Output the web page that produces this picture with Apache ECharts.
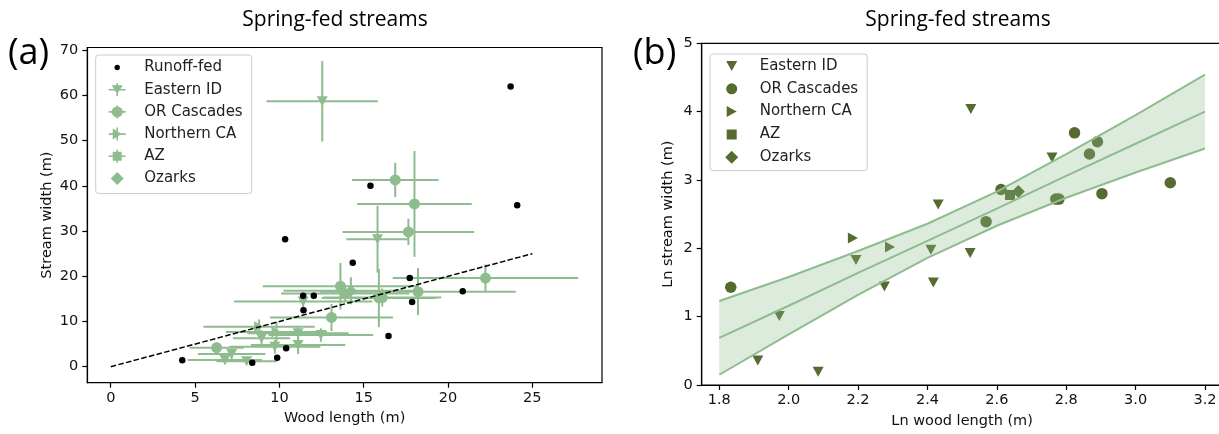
<!DOCTYPE html>
<html><head><meta charset="utf-8">
<script src="https://cdn.jsdelivr.net/npm/echarts@6/dist/echarts.min.js"></script>
<style>html,body{margin:0;padding:0;background:#fff}#c{width:1219px;height:434px}</style>
</head><body><div id="c"></div>
<script>
// ---------- Panel (a) data ----------
const aXTicks = [0, 5, 10, 15, 20, 25];
const aYTicks = [0, 10, 20, 30, 40, 50, 60, 70];
const runoffX = [23.71, 24.1, 15.4, 10.34, 14.35, 17.73, 20.87, 17.87, 16.47, 11.41, 12.04, 11.43, 10.4, 9.87, 8.39, 4.24];
const runoffY = [62.0, 35.7, 40.0, 28.2, 23.0, 19.6, 16.7, 14.3, 6.8, 15.7, 15.7, 12.5, 4.07, 2.0, 0.9, 1.4];
const eastX = [12.54, 15.82, 11.41, 8.94, 11.11, 12.46, 9.73, 11.11, 7.17, 6.77, 8.06];
const eastY = [58.7, 28.2, 14.4, 6.3, 7.4, 7.0, 4.4, 4.8, 2.8, 1.5, 1.2];
const eastXErr = [3.3, 1.85, 4.1, 1.7, 3.0, 3.1, 2.7, 2.8, 2.0, 2.2, 1.8];
const eastYErr = [8.9, 7.4, 1.5, 1.8, 1.6, 1.5, 1.5, 2.0, 1.2, 1.0, 0.6];
const orX = [6.28, 13.09, 13.62, 15.9, 16.1, 16.87, 17.65, 18.01, 18.22, 22.22];
const orY = [4.2, 10.9, 17.8, 15.2, 15.3, 41.3, 29.8, 36.0, 16.6, 19.6];
const orXErr = [1.6, 3.65, 4.6, 3.4, 3.5, 2.57, 3.9, 3.4, 5.8, 5.5];
const orYErr = [1.2, 3.0, 5.15, 6.45, 2.0, 3.8, 2.9, 11.7, 5.2, 3.0];
const ncaX = [8.8, 9.83];
const ncaY = [8.85, 7.7];
const ncaXErr = [3.3, 3.0];
const ncaYErr = [1.6, 2.2];
const azX = [13.9];
const azY = [16.2];
const azXErr = [3.8];
const azYErr = [1.8];
const ozX = [14.24];
const ozY = [16.8];
const ozXErr = [4.0];
const ozYErr = [3.0];
const refLineX = [0, 25];
const refLineY = [0, 25];

// ---------- Panel (b) data ----------
const bXTicks = [1.8, 2.0, 2.2, 2.4, 2.6, 2.8, 3.0, 3.2];
const bYTicks = [0, 1, 2, 3, 4, 5];
const bEastX = [1.911, 1.973, 2.085, 2.194, 2.276, 2.41, 2.417, 2.431, 2.523, 2.525, 2.759];
const bEastY = [0.36, 1.01, 0.195, 1.83, 1.44, 1.98, 1.50, 2.64, 1.93, 4.04, 3.33];
const bOrX = [1.833, 2.569, 2.612, 2.77, 2.779, 2.824, 2.867, 2.89, 2.903, 3.1];
const bOrY = [1.43, 2.39, 2.86, 2.72, 2.72, 3.69, 3.38, 3.56, 2.80, 2.96];
const bNcaX = [2.185, 2.292];
const bNcaY = [2.15, 2.02];
const bAzX = [2.638];
const bAzY = [2.78];
const bOzX = [2.662];
const bOzY = [2.83];
const bandX = [1.8, 2.0, 2.2, 2.4, 2.6, 2.8, 3.0, 3.2];
const fitY = [0.69, 1.16, 1.64, 2.11, 2.58, 3.06, 3.53, 4.0];
const upperY = [1.23, 1.58, 1.96, 2.36, 2.83, 3.38, 3.95, 4.54];
const lowerY = [0.15, 0.74, 1.32, 1.86, 2.33, 2.74, 3.11, 3.46];

const GREEN = '#8fbc8f', OLIVE = '#556b2f';
const FONT = 'DejaVu Sans';

const zip = (xs, ys) => xs.map((x, i) => [x, ys[i]]);
const zip4 = (xs, ys, ex, ey) => xs.map((x, i) => [x, ys[i], ex[i], ey[i]]);

const M_TRI_DOWN = 'path://M0,0L2,0L1,2Z';
const M_TRI_RIGHT = 'path://M0,0L2,1L0,2Z';
const CORN = (s) => `M0,0L0.05,0L0,0.05Z M${s},${s}L${s - 0.05},${s}L${s},${s - 0.05}Z`;
const barsA = 'M0.5,8.2H17.5V9.8H0.5Z M8.2,2.5H9.8V15.5H8.2Z';
const legA = {
  dot: 'path://' + CORN(18) + ' M6.3,9A2.7,2.7 0 1,1 11.7,9A2.7,2.7 0 1,1 6.3,9Z',
  tri: 'path://' + CORN(18) + ' ' + barsA + ' M3.5,4.5L14.5,4.5L9,13.5Z',
  cir: 'path://' + CORN(18) + ' ' + barsA + ' M3.5,9A5.5,5.5 0 1,1 14.5,9A5.5,5.5 0 1,1 3.5,9Z',
  rtri: 'path://' + CORN(18) + ' ' + barsA + ' M4.5,3.5L13.5,9L4.5,14.5Z',
  sq: 'path://' + CORN(18) + ' ' + barsA + ' M4.5,4.5H13.5V13.5H4.5Z',
  dia: 'path://' + CORN(18) + ' M9,2.5L15.5,9L9,15.5L2.5,9Z'
};
const legB = {
  tri: 'path://' + CORN(16) + ' M2.5,3L13.5,3L8,13Z',
  cir: 'path://' + CORN(16) + ' M2.5,8A5.5,5.5 0 1,1 13.5,8A5.5,5.5 0 1,1 2.5,8Z',
  rtri: 'path://' + CORN(16) + ' M3,2.5L13,8L3,13.5Z',
  sq: 'path://' + CORN(16) + ' M3,3H13V13H3Z',
  dia: 'path://' + CORN(16) + ' M8,1.5L14.5,8L8,14.5L1.5,8Z'
};

function errRender(params, api) {
  const x = api.value(0), y = api.value(1), ex = api.value(2), ey = api.value(3);
  const l = api.coord([x - ex, y]), r = api.coord([x + ex, y]);
  const t = api.coord([x, y + ey]), b = api.coord([x, y - ey]);
  const style = { stroke: GREEN, lineWidth: 2 };
  return { type: 'group', children: [
    { type: 'line', shape: { x1: l[0], y1: l[1], x2: r[0], y2: r[1] }, style },
    { type: 'line', shape: { x1: t[0], y1: t[1], x2: b[0], y2: b[1] }, style }
  ] };
}
function errSeries(xs, ys, ex, ey) {
  return { type: 'custom', xAxisIndex: 0, yAxisIndex: 0, renderItem: errRender,
    data: zip4(xs, ys, ex, ey), encode: { x: 0, y: 1 }, z: 2, silent: true };
}
function markA(name, xs, ys, symbol, size) {
  return { type: 'scatter', name, xAxisIndex: 0, yAxisIndex: 0, data: zip(xs, ys),
    symbol, symbolSize: size, itemStyle: { color: GREEN, opacity: 1 }, z: 3, silent: true };
}
function markB(name, xs, ys, symbol, size) {
  return { type: 'scatter', name, xAxisIndex: 1, yAxisIndex: 1, data: zip(xs, ys),
    symbol, symbolSize: size, itemStyle: { color: OLIVE, opacity: 1 }, z: 2, silent: true };
}

const axLine = { show: true, onZero: false, lineStyle: { color: '#000', width: 1.2 } };
const tick = (vals) => ({ show: true, customValues: vals, length: 5, lineStyle: { color: '#000', width: 1.2 } });
const lab = (vals, margin, fmt) => ({ customValues: vals, margin, color: '#111', fontFamily: FONT, fontSize: 14.5, formatter: fmt });
const nameStyle = { color: '#111', fontFamily: FONT, fontSize: 14.5 };
const titleStyle = { fontFamily: 'Open Sans', fontSize: 21, fontWeight: 'normal', color: '#000' };
const tagStyle = { fontFamily: 'Open Sans', fontSize: 36, fontWeight: 'normal', color: '#000' };
const B_WIDTH = 520.8;

const chart = echarts.init(document.getElementById('c'), null, { renderer: 'canvas' });
chart.setOption({
  animation: false,
  backgroundColor: '#fff',
  title: [
    { text: 'Spring-fed streams', left: 335, top: 10, textAlign: 'center', padding: 0, textStyle: titleStyle },
    { text: 'Spring-fed streams', left: 958, top: 10, textAlign: 'center', padding: 0, textStyle: titleStyle },
    { text: '(a)', left: 8, top: 36, padding: 0, textStyle: tagStyle },
    { text: '(b)', left: 633, top: 36, padding: 0, textStyle: tagStyle }
  ],
  grid: [
    { left: 87.3, top: 47.5, width: 514.7, height: 335.2, show: true, borderColor: '#000', borderWidth: 1.2,
      containLabel: false, outerBoundsMode: 'none' },
    { left: 701.7, top: 43.3, width: B_WIDTH, height: 341.7, show: true, borderColor: '#000', borderWidth: 1.2,
      containLabel: false, outerBoundsMode: 'none' }
  ],
  xAxis: [
    { gridIndex: 0, type: 'value', min: -1.39, max: 29.13, axisLine: axLine, axisTick: tick(aXTicks),
      axisLabel: lab(aXTicks, 8), splitLine: { show: false },
      name: 'Wood length (m)', nameLocation: 'middle', nameGap: 27, nameTextStyle: nameStyle },
    { gridIndex: 1, type: 'value', min: 1.7493, max: 1.7493 + B_WIDTH / 346.93, axisLine: axLine, axisTick: tick(bXTicks),
      axisLabel: lab(bXTicks, 8, v => v.toFixed(1)), splitLine: { show: false },
      name: 'Ln wood length (m)', nameLocation: 'middle', nameGap: 29, nameTextStyle: nameStyle }
  ],
  yAxis: [
    { gridIndex: 0, type: 'value', min: -3.54, max: 70.6, axisLine: axLine, axisTick: tick(aYTicks),
      axisLabel: lab(aYTicks, 9), splitLine: { show: false },
      name: 'Stream width (m)', nameLocation: 'middle', nameGap: 33, nameRotate: 90, nameTextStyle: nameStyle },
    { gridIndex: 1, type: 'value', min: 0, max: 5, axisLine: axLine, axisTick: tick(bYTicks),
      axisLabel: lab(bYTicks, 9), splitLine: { show: false },
      name: 'Ln stream width (m)', nameLocation: 'middle', nameGap: 26, nameRotate: 90, nameTextStyle: nameStyle }
  ],
  legend: [
    { selectedMode: false, orient: 'vertical', left: 95.7, top: 55, itemWidth: 18, itemHeight: 18, itemGap: 4.2,
      padding: [3.5, 9, 6, 12.5], borderColor: '#cccccc', borderWidth: 1, borderRadius: 3, backgroundColor: '#fff',
      textStyle: { fontFamily: FONT, fontSize: 15, color: '#222', padding: [0, 0, 0, 13] },
      data: [
        { name: 'Runoff-fed', icon: legA.dot, itemStyle: { color: '#000' } },
        { name: 'Eastern ID', icon: legA.tri, itemStyle: { color: GREEN } },
        { name: 'OR Cascades', icon: legA.cir, itemStyle: { color: GREEN } },
        { name: 'Northern CA', icon: legA.rtri, itemStyle: { color: GREEN } },
        { name: 'AZ', icon: legA.sq, itemStyle: { color: GREEN } },
        { name: 'Ozarks', icon: legA.dia, itemStyle: { color: GREEN } }
      ] },
    { selectedMode: false, orient: 'vertical', left: 710, top: 54, itemWidth: 16, itemHeight: 16, itemGap: 6.8,
      padding: [4, 9, 5.4, 13.7], borderColor: '#cccccc', borderWidth: 1, borderRadius: 3, backgroundColor: '#fff',
      textStyle: { fontFamily: FONT, fontSize: 15, color: '#222', padding: [0, 0, 0, 15] },
      data: [
        { name: 'Eastern ID', icon: legB.tri, itemStyle: { color: OLIVE } },
        { name: 'OR Cascades', icon: legB.cir, itemStyle: { color: OLIVE } },
        { name: 'Northern CA', icon: legB.rtri, itemStyle: { color: OLIVE } },
        { name: 'AZ', icon: legB.sq, itemStyle: { color: OLIVE } },
        { name: 'Ozarks', icon: legB.dia, itemStyle: { color: OLIVE } }
      ] }
  ],
  series: [
    errSeries(eastX, eastY, eastXErr, eastYErr),
    errSeries(orX, orY, orXErr, orYErr),
    errSeries(ncaX, ncaY, ncaXErr, ncaYErr),
    errSeries(azX, azY, azXErr, azYErr),
    errSeries(ozX, ozY, ozXErr, ozYErr),
    markA('Eastern ID', eastX, eastY, M_TRI_DOWN, [11, 10]),
    markA('OR Cascades', orX, orY, 'circle', 11),
    markA('Northern CA', ncaX, ncaY, M_TRI_RIGHT, [10, 11]),
    markA('AZ', azX, azY, 'rect', 9),
    markA('Ozarks', ozX, ozY, 'diamond', 12),
    { type: 'scatter', name: 'Runoff-fed', xAxisIndex: 0, yAxisIndex: 0, data: zip(runoffX, runoffY),
      symbol: 'circle', symbolSize: 6.5, itemStyle: { color: '#000', opacity: 1 }, z: 5, silent: true },
    { type: 'line', xAxisIndex: 0, yAxisIndex: 0, data: zip(refLineX, refLineY), symbol: 'none',
      lineStyle: { color: '#000', width: 1.5, type: [5.5, 2.4] }, z: 6, silent: true },
    markB('Eastern ID', bEastX, bEastY, M_TRI_DOWN, [11, 10]),
    markB('OR Cascades', bOrX, bOrY, 'circle', 11.5),
    markB('Northern CA', bNcaX, bNcaY, M_TRI_RIGHT, [10, 11]),
    markB('AZ', bAzX, bAzY, 'rect', 10),
    markB('Ozarks', bOzX, bOzY, 'diamond', 13),
    { type: 'custom', xAxisIndex: 1, yAxisIndex: 1, data: [[bandX[0], fitY[0]]], encode: { x: 0, y: 1 }, z: 3, silent: true,
      renderItem: (params, api) => {
        const pts = [];
        bandX.forEach((x, i) => pts.push(api.coord([x, upperY[i]])));
        for (let i = bandX.length - 1; i >= 0; i--) pts.push(api.coord([bandX[i], lowerY[i]]));
        return { type: 'polygon', shape: { points: pts }, style: { fill: 'rgba(143,188,143,0.3)' } };
      } },
    { type: 'line', xAxisIndex: 1, yAxisIndex: 1, data: zip(bandX, upperY), symbol: 'none',
      lineStyle: { color: GREEN, width: 2 }, z: 4, silent: true },
    { type: 'line', xAxisIndex: 1, yAxisIndex: 1, data: zip(bandX, fitY), symbol: 'none',
      lineStyle: { color: GREEN, width: 2 }, z: 4, silent: true },
    { type: 'line', xAxisIndex: 1, yAxisIndex: 1, data: zip(bandX, lowerY), symbol: 'none',
      lineStyle: { color: GREEN, width: 2 }, z: 4, silent: true }
  ]
});
</script></body></html>
